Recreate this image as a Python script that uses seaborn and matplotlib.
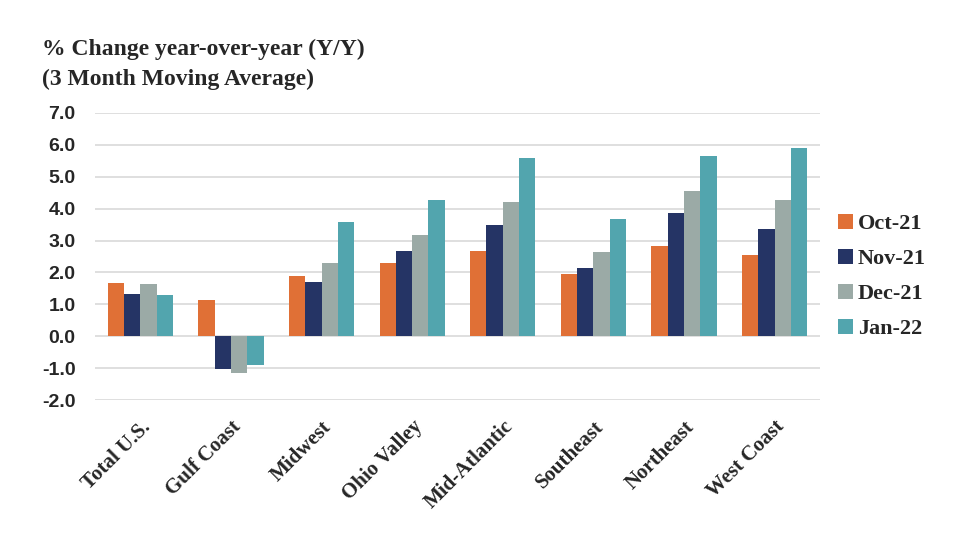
import seaborn as sns
import matplotlib.pyplot as plt
import pandas as pd

regions = ['Total U.S.', 'Gulf Coast', 'Midwest', 'Ohio Valley',
           'Mid-Atlantic', 'Southeast', 'Northeast', 'West Coast']
months = ['Oct-21', 'Nov-21', 'Dec-21', 'Jan-22']
oct21 = [1.67, 1.13, 1.89, 2.30, 2.67, 1.95, 2.83, 2.55]
nov21 = [1.32, -1.03, 1.70, 2.67, 3.49, 2.14, 3.87, 3.36]
dec21 = [1.64, -1.15, 2.30, 3.18, 4.21, 2.64, 4.56, 4.28]
jan22 = [1.29, -0.91, 3.58, 4.28, 5.60, 3.68, 5.66, 5.91]
colors = ['#E07036', '#253465', '#9BAAA6', '#52A5AE']

rows = []
for m, vals in zip(months, [oct21, nov21, dec21, jan22]):
    for r, v in zip(regions, vals):
        rows.append({'region': r, 'month': m, 'value': v})
df = pd.DataFrame(rows)

sns.set_style("white")
serif = ['Liberation Serif', 'DejaVu Serif']
sans = ['Liberation Sans', 'DejaVu Sans']

fig = plt.figure(figsize=(9.6, 5.4), dpi=100)
ax = fig.add_axes([0.099, 0.259, 0.755, 0.532])

sns.barplot(data=df, x='region', y='value', hue='month', palette=colors,
            width=0.72, saturation=1, linewidth=0, ax=ax, zorder=3)

ax.set_ylim(-2, 7)
ax.set_yticks(range(-2, 8))
ax.set_yticklabels([f'{v:.1f}' for v in range(-2, 8)], family=sans,
                   fontweight='bold', fontsize=14)
ax.yaxis.grid(True, color='#D9D9D9', linewidth=1.2, zorder=0)
ax.set_axisbelow(True)
ax.tick_params(axis='y', length=0, pad=14)
ax.tick_params(axis='x', length=0, pad=12)
ax.set_xticks(range(len(regions)))
ax.set_xticklabels(regions, rotation=45, ha='right', rotation_mode='anchor',
                   family=serif, fontweight='bold', fontsize=15)
ax.set_xlabel('')
ax.set_ylabel('')
sns.despine(ax=ax, left=True, bottom=True)
ax.set_xlim(-0.5, len(regions) - 0.5)

fig.text(0.044, 0.88, '% Change year-over-year (Y/Y)\n(3 Month Moving Average)',
         family=serif, fontweight='bold', fontsize=17, va='center',
         linespacing=1.55)

ax.legend(loc='center left', bbox_to_anchor=(1.0, 0.43), frameon=False,
          prop={'family': serif, 'weight': 'bold', 'size': 16},
          handlelength=0.7, handleheight=0.7, handletextpad=0.2,
          labelspacing=0.65, borderaxespad=0.4)

fig.savefig('out.png', dpi=100)
